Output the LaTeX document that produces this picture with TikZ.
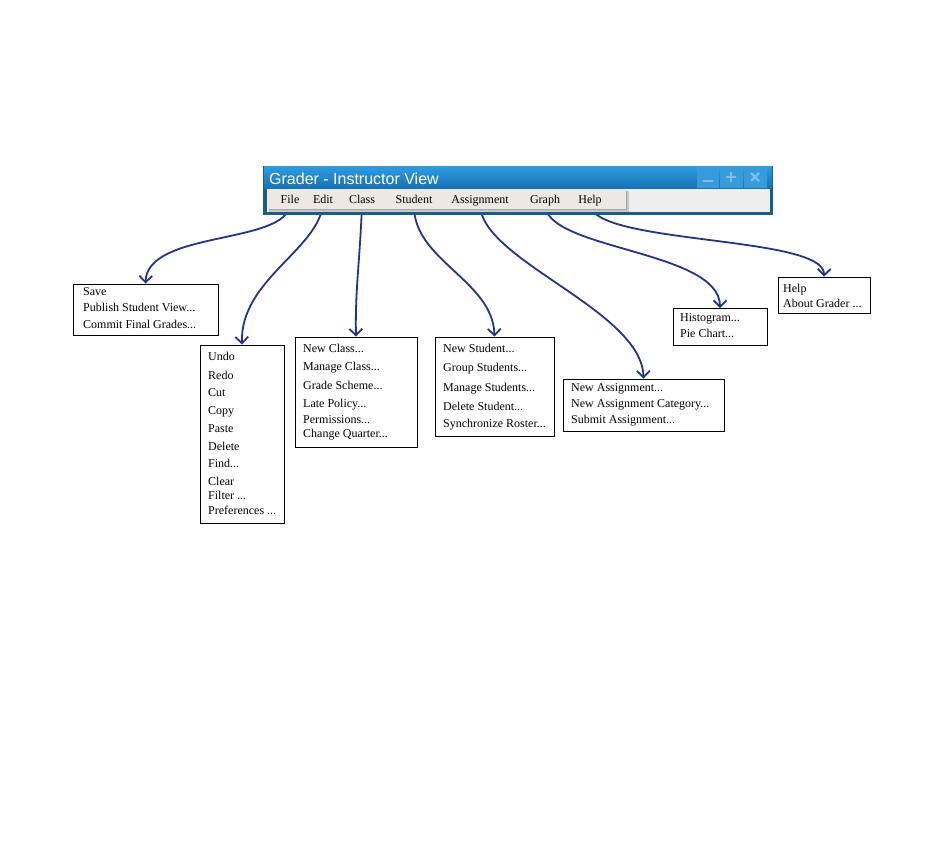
\documentclass[tikz,border=0pt]{standalone}
\usepackage{fontspec}
\setmainfont{Liberation Serif}
\newfontfamily\titlefont{Liberation Sans}
\usetikzlibrary{arrows.meta,backgrounds}

\definecolor{framebl}{RGB}{24,92,138}
\definecolor{titletop}{RGB}{48,154,222}
\definecolor{titlebot}{RGB}{22,112,178}
\definecolor{btnbl}{RGB}{56,155,218}
\definecolor{btnsym}{RGB}{125,190,235}
\definecolor{arrowbl}{RGB}{36,52,135}
\definecolor{barbg}{RGB}{238,238,238}
\definecolor{stripbg}{RGB}{236,233,226}

\begin{document}
\begin{tikzpicture}
        [x=1pt,y=-1pt,
        menuitem/.style={inner sep=0pt, font=\fontsize{12}{14}\selectfont, text height=8pt, text depth=0pt},
        menubox/.style={draw, line width=0.9pt, fill=white, inner sep=0pt},
        entry/.style={anchor=west, inner sep=0pt, font=\fontsize{12}{14}\selectfont, text height=8pt, text depth=0pt},
        link/.style={arrowbl, line width=1.8pt, -{Straight Barb[length=6.5pt,width=13pt]}}]

        \useasboundingbox (0,0) rectangle (945,861);

        % window frame and title bar
        \fill[framebl] (263,166) rectangle (773,215);
        \fill[top color=titletop, bottom color=titlebot] (264,167) rectangle (772,189);
        \node[anchor=base west, inner sep=0pt, text=white, font=\titlefont\fontsize{16}{18}\selectfont] (title) at (269,185) {Grader - Instructor View};

        % window buttons
        \fill[btnbl] (697,167) rectangle (719,188);
        \fill[btnbl] (720,167) rectangle (743,188);
        \fill[btnbl] (744,167) rectangle (767,188);
        \draw[btnsym, line width=2.2pt] (703,181) -- (713,181);
        \draw[btnsym, line width=2.2pt] (726,177) -- (736,177) (731,172) -- (731,182);
        \draw[btnsym, line width=2.2pt] (751,173) -- (759,181) (751,181) -- (759,173);

        % menu bar
        \fill[barbg] (267,189) rectangle (770,212);
        \fill[black!22] (269,191) rectangle (629,212);
        \fill[black!35] (269,191) rectangle (627,210);
        \fill[stripbg] (267,189) rectangle (626,209);

        % menu items
        \node[menuitem] (file) at (290,200) {File};
        \node[menuitem] (edit) at (323,200) {Edit};
        \node[menuitem] (class) at (362,200) {Class};
        \node[menuitem] (student) at (414,200) {Student};
        \node[menuitem] (assign) at (480,200) {Assignment};
        \node[menuitem] (graph) at (545,200) {Graph};
        \node[menuitem] (help) at (590,200) {Help};

        % drop-down boxes
        \node[menubox, minimum width=145pt, minimum height=51pt] (fileBox) at (145.5,309.5) {};
        \node[menubox, minimum width=84pt, minimum height=178pt] (editBox) at (242,434) {};
        \node[menubox, minimum width=122pt, minimum height=110pt] (classBox) at (356,392) {};
        \node[menubox, minimum width=119pt, minimum height=99pt] (studentBox) at (494.5,386.5) {};
        \node[menubox, minimum width=161pt, minimum height=52pt] (assignBox) at (643.5,405) {};
        \node[menubox, minimum width=94pt, minimum height=37pt] (graphBox) at (720,327) {};
        \node[menubox, minimum width=92pt, minimum height=36pt] (helpBox) at (824,295) {};

        % box entries
        \foreach \y/\t [count=\i] in {291/{Save}, 307/{Publish Student View...}, 324/{Commit Final Grades...}}
          \node[entry] (file\i) at (83,\y) {\t};
        \foreach \y/\t [count=\i] in {356/{Undo}, 375/{Redo}, 392/{Cut}, 410/{Copy}, 428/{Paste},
            446/{Delete}, 463/{Find...}, 481/{Clear}, 495/{Filter ...}, 510/{Preferences ...}}
          \node[entry] (edit\i) at (208,\y) {\t};
        \foreach \y/\t [count=\i] in {348/{New Class...}, 366/{Manage Class...}, 385/{Grade Scheme...},
            403/{Late Policy...}, 419/{Permissions...}, 433/{Change Quarter...}}
          \node[entry] (class\i) at (303,\y) {\t};
        \foreach \y/\t [count=\i] in {348/{New Student...}, 367/{Group Students...}, 387/{Manage Students...},
            406/{Delete Student...}, 423/{Synchronize Roster...}}
          \node[entry] (student\i) at (443,\y) {\t};
        \foreach \y/\t [count=\i] in {387/{New Assignment...}, 403/{New Assignment Category...}, 419/{Submit Assignment...}}
          \node[entry] (assign\i) at (571,\y) {\t};
        \foreach \y/\t [count=\i] in {317/{Histogram...}, 333/{Pie Chart...}}
          \node[entry] (graph\i) at (680,\y) {\t};
        \foreach \y/\t [count=\i] in {288/{Help}, 303/{About Grader ...}}
          \node[entry] (help\i) at (783,\y) {\t};

        % arrows from menu items to their boxes
        \begin{scope}[on background layer]
        \draw[link] (file.south) .. controls (287,245) and (147,230) .. (fileBox.north);
        \draw[link] (edit.south) .. controls (318,250) and (240,280) .. (editBox.north);
        \draw[link] (class.south) .. controls (360,260) and (355,290) .. (classBox.north);
        \draw[link] (student.south) .. controls (412,260) and (493,280) .. (studentBox.north);
        \draw[link] (assign.south) .. controls (480,260) and (642,310) .. (assignBox.north);
        \draw[link] (graph.south) .. controls (545,250) and (720,250) .. (graphBox.north);
        \draw[link] (help.south) .. controls (592,245) and (825,235) .. (helpBox.north);
        \end{scope}

    \end{tikzpicture}
\end{document}
